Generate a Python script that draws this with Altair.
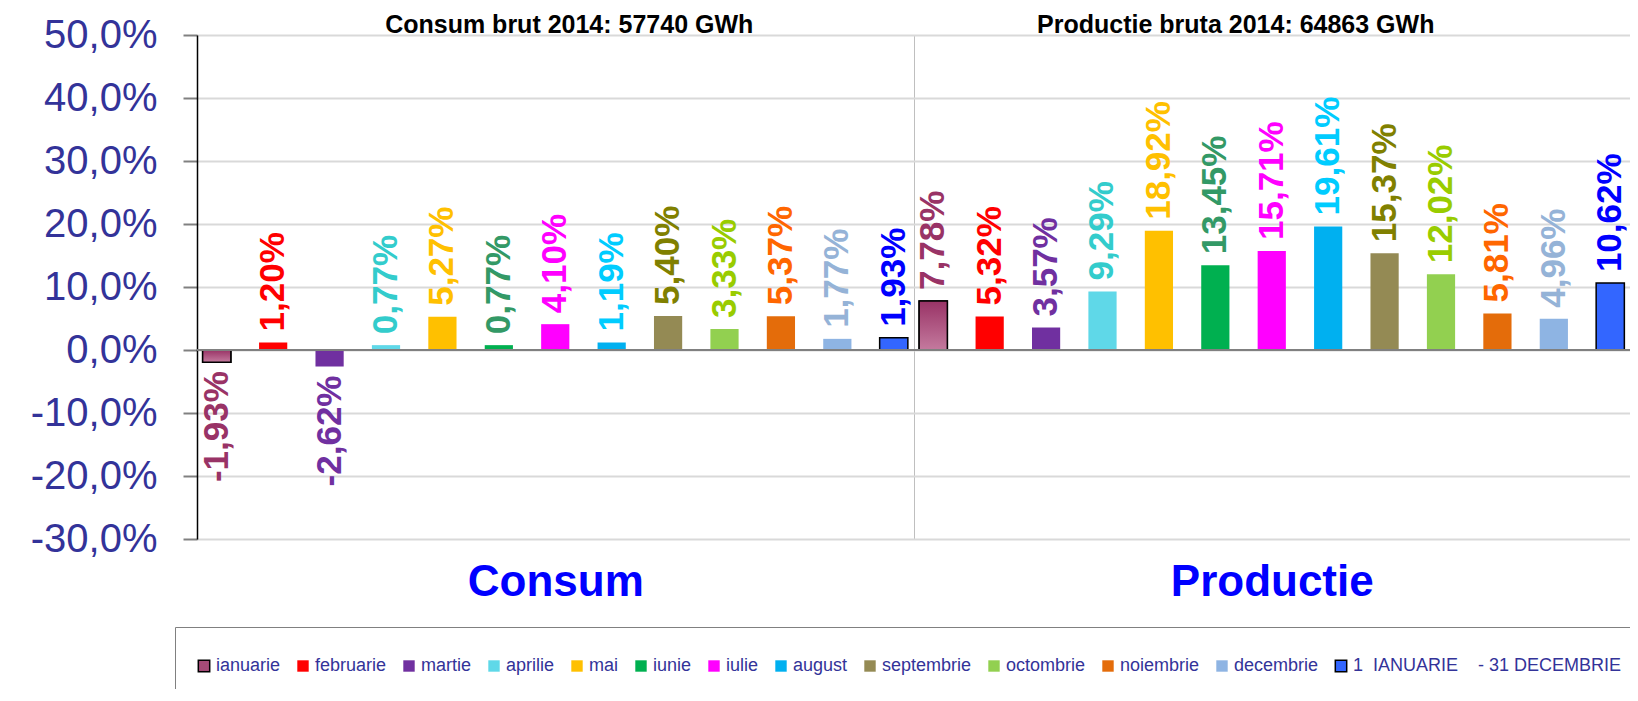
import altair as alt
import pandas as pd

months = ["ianuarie", "februarie", "martie", "aprilie", "mai", "iunie", "iulie",
          "august", "septembrie", "octombrie", "noiembrie", "decembrie",
          "1\u00a0\u00a0IANUARIE\u00a0\u00a0\u00a0\u00a0- 31 DECEMBRIE"]
groups = ["Consum", "Productie"]
consum = [-1.93, 1.20, -2.62, 0.77, 5.27, 0.77, 4.10, 1.19, 5.40, 3.33, 5.37, 1.77, 1.93]
productie = [7.78, 5.32, 3.57, 9.29, 18.92, 13.45, 15.71, 19.61, 15.37, 12.02, 5.81, 4.96, 10.62]
bar_colors = ["#A34A76", "#FF0000", "#7030A0", "#5FD8E8", "#FFC000", "#00B050", "#FF00FF",
              "#00B0F0", "#948A54", "#92D050", "#E46C0A", "#8EB4E3", "#3366FF"]
label_colors = ["#993366", "#FF0000", "#7030A0", "#33CCCC", "#FFC000", "#339966", "#FF00FF",
                "#00CCFF", "#808000", "#99CC00", "#FF6600", "#95B3D7", "#0000FF"]
stroke_colors = ["#000000"] + ["transparent"] * 11 + ["#000000"]
titles = ["Consum brut 2014: 57740 GWh", "Productie bruta 2014: 64863 GWh"]
y_ticks = [-30, -20, -10, 0, 10, 20, 30, 40, 50]

rows = []
for g, vals in zip(groups, [consum, productie]):
    for m, v, lc in zip(months, vals, label_colors):
        rows.append({"group": g, "month": m, "value": v, "lc": lc})
df = pd.DataFrame(rows)
tdf = pd.DataFrame({"group": groups, "title": titles})

FONT = "Liberation Sans"

x_enc = alt.X("group:N", sort=groups,
              scale=alt.Scale(paddingInner=0, paddingOuter=0),
              axis=alt.Axis(title=None, orient="bottom", labelAngle=0, labelFont=FONT,
                            labelFontSize=44, labelFontWeight="bold", labelColor="#0000FF",
                            labelLimit=0, ticks=False, domain=False, grid=True,
                            gridColor="#BFBFBF", gridWidth=1, tickBand="extent",
                            labelPadding=21))
xo_enc = alt.XOffset("month:N", sort=months,
                     scale=alt.Scale(paddingInner=0.5, paddingOuter=0.1))
y_enc = alt.Y("value:Q",
              scale=alt.Scale(domain=[-30, 50], nice=False, zero=False),
              axis=alt.Axis(values=y_ticks, title=None,
                            labelExpr="(datum.value < 0 ? '-' : '') + replace(format(abs(datum.value), '.1f'), '.', ',') + '%'",
                            labelFont=FONT, labelFontSize=40, labelColor="#333399",
                            labelPadding=26, tickSize=14, tickColor="#808080", tickWidth=2,
                            domainColor="#000000", domainWidth=1.5,
                            gridColor="#D9D9D9", gridWidth=2))

base = alt.Chart(df)

bars = base.mark_bar(strokeWidth=1.5).encode(
    x=x_enc, xOffset=xo_enc, y=y_enc,
    color=alt.Color("month:N", sort=months,
                    scale=alt.Scale(domain=months, range=bar_colors),
                    legend=alt.Legend(title="\u00a0")),
    stroke=alt.Stroke("month:N", sort=months,
                      scale=alt.Scale(domain=months, range=stroke_colors),
                      legend=alt.Legend(title="\u00a0")),
)

grad = alt.Gradient(gradient="linear",
                    stops=[alt.GradientStop(color="#993366", offset=0),
                           alt.GradientStop(color="#C47A9E", offset=1)],
                    x1=0, x2=0, y1=0, y2=1)
jan = base.transform_filter(alt.datum.month == "ianuarie").mark_bar(
    fill=grad, stroke="#000000", strokeWidth=1.5).encode(
    x="group:N", xOffset=alt.XOffset("month:N", sort=months), y="value:Q")

zero = alt.Chart(df).mark_rule(color="#808080", strokeWidth=2).encode(y=alt.datum(0))

lab_expr = "(datum.value < 0 ? '-' : '') + replace(format(abs(datum.value), '.2f'), '.', ',') + '%'"
pos = base.transform_filter(alt.datum.value >= 0).transform_calculate(lab=lab_expr).mark_text(
    angle=270, align="left", baseline="middle", dx=11, font=FONT, fontSize=35, fontWeight="bold"
).encode(x="group:N", xOffset=alt.XOffset("month:N", sort=months), y="value:Q",
         text="lab:N", fill=alt.Fill("lc:N", scale=None))
neg = base.transform_filter(alt.datum.value < 0).transform_calculate(lab=lab_expr).mark_text(
    angle=270, align="right", baseline="middle", dx=-9, font=FONT, fontSize=35, fontWeight="bold"
).encode(x="group:N", xOffset=alt.XOffset("month:N", sort=months), y="value:Q",
         text="lab:N", fill=alt.Fill("lc:N", scale=None))

t1 = alt.Chart(tdf).transform_filter(alt.datum.group == "Consum").mark_text(
    font=FONT, fontSize=25, fontWeight="bold", color="#000000", baseline="alphabetic", dy=-2, dx=14
).encode(x="group:N", y=alt.datum(50), text="title:N")
t2 = alt.Chart(tdf).transform_filter(alt.datum.group == "Productie").mark_text(
    font=FONT, fontSize=25, fontWeight="bold", color="#000000", baseline="alphabetic", dy=-2, dx=-36
).encode(x="group:N", y=alt.datum(50), text="title:N")

chart = alt.layer(bars, jan, zero, pos, neg, t1, t2).properties(
    width=1433, height=504,
    autosize=alt.AutoSizeParams(type="none"),
    padding={"left": 189, "top": 27, "right": 0, "bottom": 150},
).configure_view(stroke=None).configure_legend(
    orient="none", legendX=-22, legendY=592, direction="horizontal", columns=13,
    labelFont=FONT, labelFontSize=18, labelColor="#333399", labelLimit=0, labelOffset=3,
    symbolType="square", symbolSize=130, symbolStrokeWidth=1.5, columnPadding=13,
    strokeColor="#808080", padding=20, titleFontSize=8, titlePadding=2,
)

chart.save("out.html", embed_options={"renderer": "svg", "actions": False})
